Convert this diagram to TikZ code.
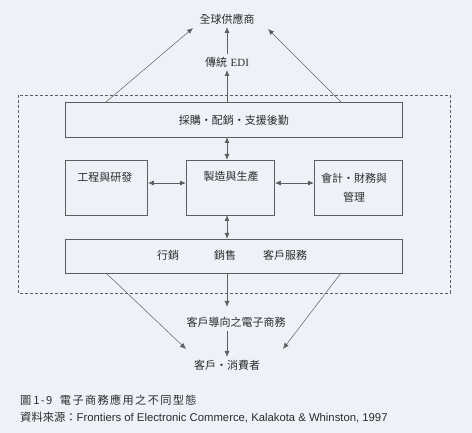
\documentclass[tikz,border=0pt]{standalone}
\usepackage{fontspec}
\setmainfont{Liberation Sans}
\newfontfamily\cjk{Noto Sans CJK TC}
\newfontfamily\cjkcap[LetterSpace=12]{Noto Sans CJK TC}
\newfontfamily\serifL{Liberation Serif}
\usetikzlibrary{arrows.meta}
\definecolor{bg}{HTML}{EEF2F8}
\definecolor{ln}{HTML}{5E5E5E}
\definecolor{tx}{HTML}{2A2A2A}
\begin{document}
\begin{tikzpicture}[x=1pt,y=-1pt,
  font=\cjk\fontsize{11}{14}\selectfont, text=tx,
  box/.style={draw=ln, line width=0.8pt, anchor=north west, inner sep=0pt},
  arr/.style={-{Latex[length=6pt,width=5pt]}, draw=ln, line width=0.9pt},
  thin arr/.style={-{Latex[length=6pt,width=5pt]}, draw=ln, line width=0.5pt},
  darr/.style={{Latex[length=6pt,width=5pt]}-{Latex[length=6pt,width=5pt]}, draw=ln, line width=0.9pt},
  lbl/.style={inner sep=1pt}]
\fill[bg] (0,0) rectangle (472,433);
\useasboundingbox (0,0) rectangle (472,433);

% dashed enterprise frame
\draw[ln, dashed, dash pattern=on 3pt off 2pt, line width=0.6pt] (18,95) rectangle (450,293);

% boxes
\node[box, minimum width=337pt, minimum height=35pt] (proc) at (65,102) {};
\node[lbl] at (proc.center) {採購・配銷・支援後勤};
\node[box, minimum width=82pt, minimum height=55pt] (eng) at (65,160) {};
\node[box, minimum width=88pt, minimum height=55pt] (mfg) at (186,160) {};
\node[box, minimum width=88pt, minimum height=55pt] (acc) at (314,160) {};
\node[box, minimum width=337pt, minimum height=34pt] (mkt) at (65,239) {};

\node[lbl] (engt) at (105,177) {工程與研發};
\node[lbl] (mfgt) at (231,176) {製造與生產};
\node[lbl, align=center] (acct) at (354,188) {會計・財務與\\[5pt]管理};

\node[lbl] at (168,255) {行銷};
\node[lbl] at (225,255) {銷售};
\node[lbl] at (285,255) {客戶服務};

% outside labels
\node[lbl] (sup) at (227,19) {全球供應商};
\node[lbl] (edi) at (227,62) {傳統\,\,{\serifL EDI}};
\node[lbl] (ce) at (236,322) {客戶導向之電子商務};
\node[lbl] (cust) at (227,365) {客戶・消費者};

% connector end points
\coordinate (pt) at (227,102);
\coordinate (ediT) at (227,70);
\coordinate (ediB) at (227,54);
\coordinate (supB) at (227,27);
\coordinate (pl) at (106,102);
\coordinate (plE) at (193,28);
\coordinate (pr) at (341,102);
\coordinate (prE) at (268,29);
\coordinate (pb) at (227,137);
\coordinate (mt) at (227,160);
\coordinate (mb) at (227,215);
\coordinate (kt) at (227,239);
\coordinate (kb) at (227,273);
\coordinate (ceT) at (227,307);
\coordinate (ceB) at (227,331);
\coordinate (cuT) at (227,357);
\coordinate (kl) at (106,273);
\coordinate (klE) at (186,349);
\coordinate (kr) at (341,273);
\coordinate (krE) at (283,349);

% connectors
\draw[arr] (pt) -- (ediT);
\draw[arr] (ediB) -- (supB);
\draw[thin arr] (pl) -- (plE);
\draw[thin arr] (pr) -- (prE);
\draw[darr] (pb) -- (mt);
\draw[darr] (eng.east |- 0,183) -- (mfg.west |- 0,183);
\draw[darr] (mfg.east |- 0,183) -- (acc.west |- 0,183);
\draw[darr] (mb) -- (kt);
\draw[arr] (kb) -- (ceT);
\draw[arr] (ceB) -- (cuT);
\draw[thin arr] (kl) -- (klE);
\draw[thin arr] (kr) -- (krE);

% caption
\node[anchor=west, inner sep=0pt, font=\cjkcap\fontsize{11.2}{13}\selectfont] (cap1) at (20,400) {圖\,1-9\ \ 電子商務應用之不同型態};
\node[anchor=west, inner sep=0pt, font=\fontsize{11.3}{13}\selectfont] (cap2) at (20,417) {{\cjk 資料來源：}Frontiers of Electronic Commerce, Kalakota \& Whinston, 1997};
\end{tikzpicture}
\end{document}
